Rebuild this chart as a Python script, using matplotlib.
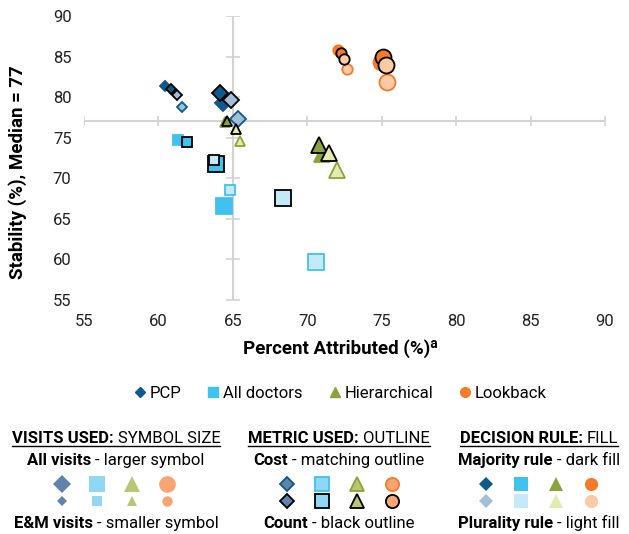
import matplotlib
matplotlib.use('Agg')
import matplotlib.pyplot as plt
from matplotlib.lines import Line2D

plt.rcParams['font.family'] = ['Roboto', 'DejaVu Sans']

# attribution methods and their styling
methods = ['PCP', 'All doctors', 'Hierarchical', 'Lookback']
shapes = ['D', 's', '^', 'o']
dark = ['#0d5a8c', '#3fc3ee', '#8aa33a', '#f47b2a']
light = ['#a3bfd6', '#c6e9f8', '#e3ebb0', '#fdcaa6']
mid = ['#5f83aa', '#8fd7f5', '#b7c774', '#f7a572']

# 8 variants per method (same order for every method)
visits_used = ['All', 'All', 'All', 'All', 'E&M', 'E&M', 'E&M', 'E&M']
metric_used = ['Cost', 'Cost', 'Count', 'Count', 'Cost', 'Cost', 'Count', 'Count']
decision_rule = ['Majority', 'Plurality'] * 4

pcp_x = [64.36, 65.37, 64.14, 64.85, 60.44, 61.60, 60.82, 61.23]
pcp_y = [79.3, 77.3, 80.5, 79.6, 81.37, 78.75, 81.0, 80.27]
alldoc_x = [64.40, 70.60, 63.87, 68.35, 61.34, 64.81, 61.94, 63.73]
alldoc_y = [66.6, 59.7, 71.7, 67.6, 74.7, 68.5, 74.5, 72.2]
hier_x = [71.00, 71.97, 70.79, 71.48, 64.50, 65.48, 64.63, 65.19]
hier_y = [73.0, 71.0, 74.1, 73.1, 76.9, 74.6, 77.0, 76.1]
look_x = [74.95, 75.38, 75.07, 75.26, 72.08, 72.69, 72.26, 72.47]
look_y = [84.3, 81.9, 84.9, 84.0, 85.85, 83.5, 85.5, 84.7]

xs = [pcp_x, alldoc_x, hier_x, look_x]
ys = [pcp_y, alldoc_y, hier_y, look_y]

median_stability = 77
ticks = [55, 60, 65, 70, 75, 80, 85, 90]

big = {'D': 8.5, 's': 11.5, '^': 11.5, 'o': 11.5}
small = {'D': 5.5, 's': 7.5, '^': 7.5, 'o': 7.5}

W, H = 629, 534
fig = plt.figure(figsize=(W / 100, H / 100), dpi=100)
ax = fig.add_axes([84 / W, 1 - 300 / H, 521 / W, 284 / H])

grid_col = '#d3d3d3'
ax.axhline(median_stability, color=grid_col, lw=1.5, zorder=0)
ax.axvline(65, color=grid_col, lw=1.5, zorder=0)
ax.plot([t for t in ticks if t != 65], [median_stability] * 7, ls='none',
        marker='|', ms=7, mew=1.2, color=grid_col, zorder=0)
ax.plot([65] * 8, ticks, ls='none',
        marker='_', ms=10, mew=1.2, color=grid_col, zorder=0)

for m in range(len(methods)):
    for k in range(8):
        size = big if visits_used[k] == 'All' else small
        fill = dark[m] if decision_rule[k] == 'Majority' else light[m]
        edge = dark[m] if metric_used[k] == 'Cost' else 'black'
        ax.plot(xs[m][k], ys[m][k], ls='none', marker=shapes[m],
                ms=size[shapes[m]], mfc=fill, mec=edge, mew=1.3, zorder=3)

ax.set_xlim(55, 90)
ax.set_ylim(55, 90)
ax.set_xticks(ticks)
ax.set_yticks(ticks)
for s in ax.spines.values():
    s.set_visible(False)
ax.tick_params(length=0, labelsize=12, colors='#222222')
ax.tick_params(axis='x', pad=10)
ax.tick_params(axis='y', pad=9)

ax.set_xlabel('Percent Attributed (%)\u1d43', fontsize=13.5, fontweight='bold')
ax.xaxis.set_label_coords((340 - 84) / 521, -(349 - 300) / 284)
ax.xaxis.label.set_va('center')
ax.set_ylabel('Stability (%), Median = 77', fontsize=13.5, fontweight='bold')
ax.yaxis.set_label_coords(-(84 - 18) / 521, (300 - 172) / 284)
ax.yaxis.label.set_va('center')

# series legend
handles = [Line2D([], [], ls='none', marker=shapes[m], ms=small[shapes[m]] - 0.5,
                  mfc=dark[m], mec=dark[m]) for m in range(4)]
fig.legend(handles, methods, loc='center', bbox_to_anchor=(341 / W, 1 - 393 / H),
           ncol=4, frameon=False, fontsize=12, handlelength=0.6,
           handletextpad=0.3, columnspacing=1.6)

# explanation blocks
renderer = fig.canvas.get_renderer()


def rich_line(xc, yc, bold, regular, size=12, underline=False):
    t1 = fig.text(0, 0, bold, fontsize=size, fontweight='bold', va='baseline')
    t2 = fig.text(0, 0, regular, fontsize=size, va='baseline')
    a = fig.text(0, 0, 'x x', fontsize=size)
    b = fig.text(0, 0, 'xx', fontsize=size)
    gap = a.get_window_extent(renderer).width - b.get_window_extent(renderer).width
    a.remove()
    b.remove()
    w1 = t1.get_window_extent(renderer).width
    w2 = t2.get_window_extent(renderer).width
    left = xc - (w1 + gap + w2) / 2
    t1.set_position((left / W, 1 - yc / H))
    t2.set_position(((left + w1 + gap) / W, 1 - yc / H))
    if underline:
        fig.add_artist(Line2D([left / W, (left + w1 + gap + w2) / W],
                              [1 - (yc + 2.5) / H] * 2, color='black', lw=1,
                              transform=fig.transFigure))


blocks = [
    (116, ('VISITS USED:', 'SYMBOL SIZE'), ('All visits', '- larger symbol'),
     ('E&M visits', '- smaller symbol')),
    (339, ('METRIC USED:', 'OUTLINE'), ('Cost', '- matching outline'),
     ('Count', '- black outline')),
    (539, ('DECISION RULE:', 'FILL'), ('Majority rule', '- dark fill'),
     ('Plurality rule', '- light fill')),
]
for xc, head, top, bottom in blocks:
    rich_line(xc, 443, *head, underline=True)
    rich_line(xc, 465, *top)
    rich_line(xc, 528, *bottom)

key_x0 = [62, 287, 486]
key_step = 35
for b in range(3):
    for m in range(4):
        fx = (key_x0[b] + key_step * m) / W
        sh = shapes[m]
        if b == 0:
            rows = [(big[sh] + 0.5, mid[m], mid[m], 0), (small[sh], mid[m], mid[m], 0)]
        elif b == 1:
            rows = [(small[sh] + 2, mid[m], dark[m], 1.3), (small[sh] + 2, mid[m], 'black', 1.3)]
        else:
            rows = [(small[sh] + 2, dark[m], dark[m], 0), (small[sh] + 2, light[m], light[m], 0)]
        for r, (ms, fc, ec, ew) in enumerate(rows):
            fy = 1 - (484 + 17 * r) / H
            fig.add_artist(Line2D([fx], [fy], ls='none', marker=sh, ms=ms, mfc=fc,
                                  mec=ec, mew=ew, transform=fig.transFigure))

fig.savefig('out.png', dpi=100)
